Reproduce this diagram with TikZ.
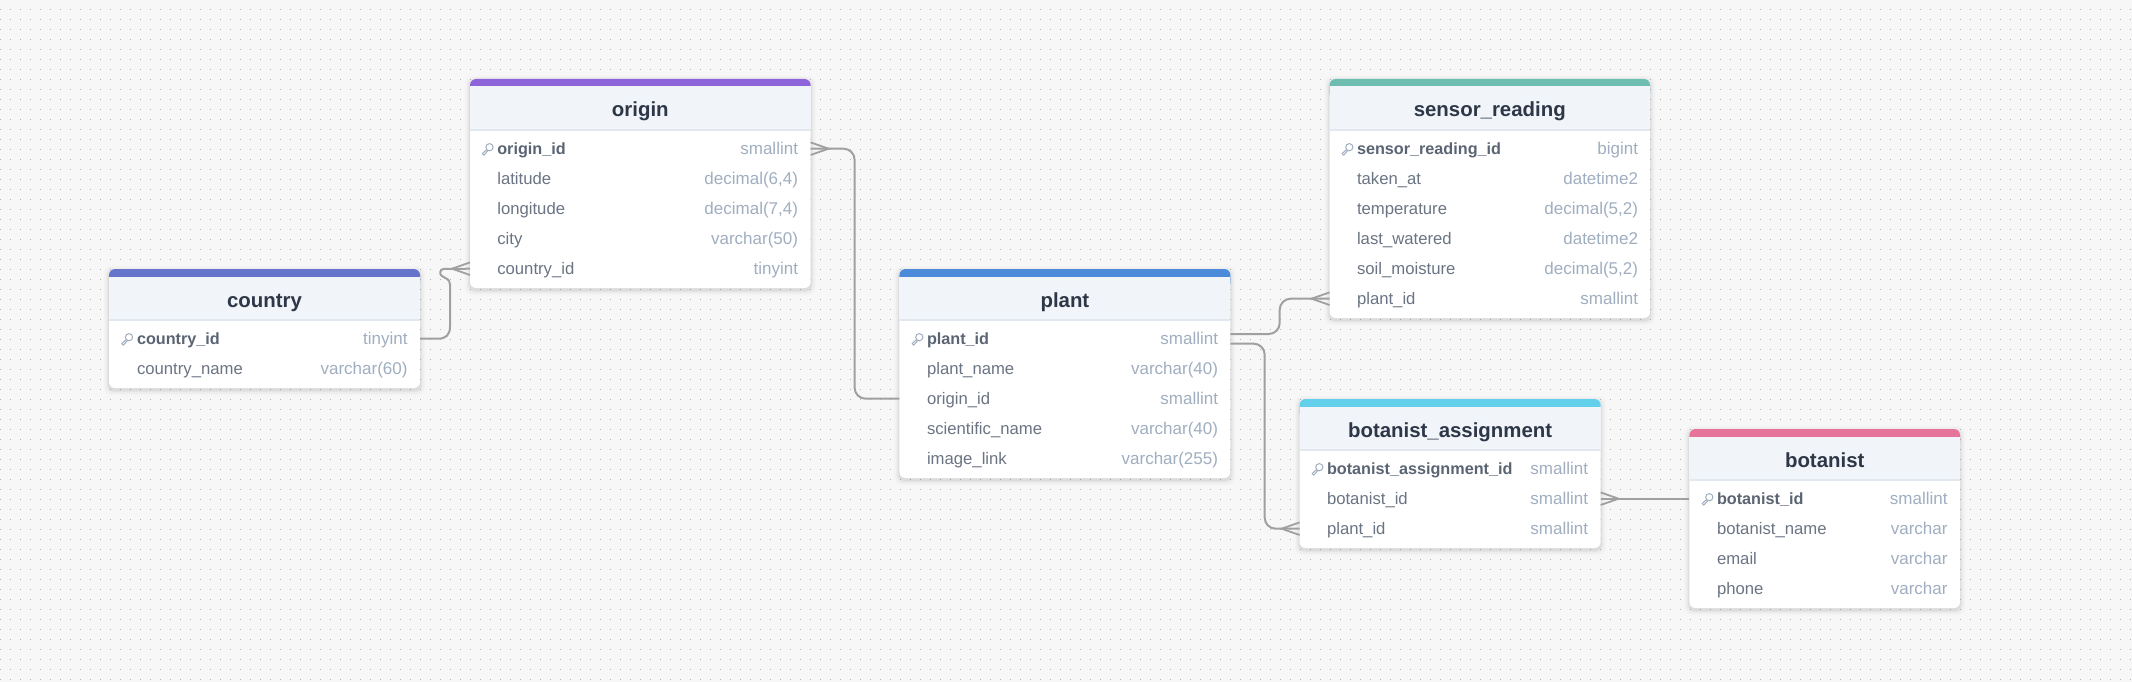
\documentclass[tikz,border=0pt]{standalone}
\usepackage{fontspec}
\setmainfont{Liberation Sans}
\usepackage{tikz}
\usetikzlibrary{positioning}

\definecolor{canvas}{HTML}{F7F7F7}
\definecolor{griddot}{HTML}{B4B4B4}
\definecolor{headfill}{HTML}{F1F5F9}
\definecolor{headline}{HTML}{E2E8F0}
\definecolor{titletext}{HTML}{2D3748}
\definecolor{nametext}{HTML}{6B7483}
\definecolor{idtext}{HTML}{5A6473}
\definecolor{typetext}{HTML}{A0AEC0}
\definecolor{linkline}{HTML}{A0A0A0}
\definecolor{originbar}{HTML}{8E64DB}
\definecolor{countrybar}{HTML}{6675CB}
\definecolor{plantbar}{HTML}{4C8BD9}
\definecolor{sensorbar}{HTML}{6DBDB0}
\definecolor{assignbar}{HTML}{62D0EA}
\definecolor{botanistbar}{HTML}{E6749A}

\tikzset{
    x=1pt, y=-1pt,
    tablebody/.style={draw=none, fill=white, rounded corners=6pt, inner sep=0pt, outer sep=0pt, anchor=north west},
    tabletitle/.style={font=\fontsize{20.4}{24}\bfseries\selectfont, text=titletext, inner sep=0pt, outer sep=0pt, text height=18pt, text depth=4pt},
    colname/.style={font=\fontsize{16.7}{20}\selectfont, text=nametext, inner sep=0pt, outer sep=0pt, minimum height=30pt, text height=16pt, text depth=4pt},
    colid/.style={colname, font=\fontsize{16.2}{20}\bfseries\selectfont, text=idtext},
    coltype/.style={colname, font=\fontsize{17}{20}\selectfont, text=typetext, anchor=east},
    under/.style={below=0pt of #1.south west, anchor=north west},
    link/.style={draw=linkline, line width=2pt},
    foot/.style={draw=linkline, line width=1.8pt},
    keyicon/.pic={
        \draw[draw=typetext, line width=1pt] (0,0) circle (3.6pt);
        \draw[draw=typetext, line width=1pt, line join=round] (-2.8,2.4) -- (-7.2,6.4) -- (-5.6,8) -- (-1.6,3.4);
    }
}

% frame of one table: name, x, y, width, height, bar colour
\newcommand{\dbtable}[6]{
    \foreach \grow/\op in {5/.015, 3.5/.025, 2/.03, 1/.04}
        \fill[black, opacity=\op, rounded corners=7pt] (#2-\grow,#3+2-\grow) rectangle (#2+#4+\grow,#3+#5+2+\grow);
    \node[tablebody, minimum width=#4pt, minimum height=#5pt] (#1) at (#2,#3) {};
    \fill[#6, rounded corners=6pt] (#2,#3) rectangle (#2+#4,#3+20);
    \fill[headfill] (#2,#3+7.5) rectangle (#2+#4,#3+51.7);
    \fill[headline] (#2,#3+50.2) rectangle (#2+#4,#3+52.2);
}

\begin{document}
\begin{tikzpicture}
    \useasboundingbox (0,0) rectangle (2132,682);
    \fill[canvas] (0,0) rectangle (2132,682);

    % dots of the canvas
    \foreach \row in {0,...,67}
        \draw[griddot, line width=1.1pt, dash pattern=on 1.1pt off 8.9pt] (-.2,9.3+10*\row) -- (2132,9.3+10*\row);

    % origin
    \dbtable{origin}{470}{79}{340.6}{209}{originbar}
    \node[tabletitle] (origin-title) at (origin.north |- 0,110) {origin};
    \node[colid, anchor=west] (origin-id) at (497.3,148.7) {origin\_id};
    \node[colname, under=origin-id] (origin-lat) {latitude};
    \node[colname, under=origin-lat] (origin-lon) {longitude};
    \node[colname, under=origin-lon] (origin-city) {city};
    \node[colname, under=origin-city] (origin-cid) {country\_id};
    \node[coltype] (origin-id-t) at (798,148.7) {smallint};
    \node[coltype] (origin-lat-t) at (798,178.7) {decimal(6,4)};
    \node[coltype] (origin-lon-t) at (798,208.7) {decimal(7,4)};
    \node[coltype] (origin-city-t) at (798,238.7) {varchar(50)};
    \node[coltype] (origin-cid-t) at (798,268.7) {tinyint};
    \pic at (489.5,147.2) {keyicon};

    % country
    \dbtable{country}{109}{269}{311}{119}{countrybar}
    \node[tabletitle] (country-title) at (country.north |- 0,300) {country};
    \node[colid, anchor=west] (country-id) at (137,338.7) {country\_id};
    \node[colname, under=country-id] (country-name) {country\_name};
    \node[coltype] (country-id-t) at (407.5,338.7) {tinyint};
    \node[coltype] (country-name-t) at (407.5,368.7) {varchar(60)};
    \pic at (129,337.2) {keyicon};

    % plant
    \dbtable{plant}{899.4}{269}{331}{209}{plantbar}
    \node[tabletitle] (plant-title) at (plant.north |- 0,300) {plant};
    \node[colid, anchor=west] (plant-id) at (927,338.7) {plant\_id};
    \node[colname, under=plant-id] (plant-name) {plant\_name};
    \node[colname, under=plant-name] (plant-origin) {origin\_id};
    \node[colname, under=plant-origin] (plant-sci) {scientific\_name};
    \node[colname, under=plant-sci] (plant-img) {image\_link};
    \node[coltype] (plant-id-t) at (1218,338.7) {smallint};
    \node[coltype] (plant-name-t) at (1218,368.7) {varchar(40)};
    \node[coltype] (plant-origin-t) at (1218,398.7) {smallint};
    \node[coltype] (plant-sci-t) at (1218,428.7) {varchar(40)};
    \node[coltype] (plant-img-t) at (1218,458.7) {varchar(255)};
    \pic at (919.3,337.2) {keyicon};

    % sensor_reading
    \dbtable{sensor}{1329.5}{79}{320.5}{239}{sensorbar}
    \node[tabletitle] (sensor-title) at (sensor.north |- 0,110) {sensor\_reading};
    \node[colid, anchor=west] (sensor-id) at (1357,148.7) {sensor\_reading\_id};
    \node[colname, under=sensor-id] (sensor-taken) {taken\_at};
    \node[colname, under=sensor-taken] (sensor-temp) {temperature};
    \node[colname, under=sensor-temp] (sensor-water) {last\_watered};
    \node[colname, under=sensor-water] (sensor-soil) {soil\_moisture};
    \node[colname, under=sensor-soil] (sensor-plant) {plant\_id};
    \node[coltype] (sensor-id-t) at (1638,148.7) {bigint};
    \node[coltype] (sensor-taken-t) at (1638,178.7) {datetime2};
    \node[coltype] (sensor-temp-t) at (1638,208.7) {decimal(5,2)};
    \node[coltype] (sensor-water-t) at (1638,238.7) {datetime2};
    \node[coltype] (sensor-soil-t) at (1638,268.7) {decimal(5,2)};
    \node[coltype] (sensor-plant-t) at (1638,298.7) {smallint};
    \pic at (1349.3,147.2) {keyicon};

    % botanist_assignment
    \dbtable{assign}{1299.6}{399}{301}{149}{assignbar}
    \node[tabletitle] (assign-title) at (assign.north |- 0,430) {botanist\_assignment};
    \node[colid, anchor=west] (assign-id) at (1327,468.7) {botanist\_assignment\_id};
    \node[colname, under=assign-id] (assign-bot) {botanist\_id};
    \node[colname, under=assign-bot] (assign-plant) {plant\_id};
    \node[coltype] (assign-id-t) at (1588,468.7) {smallint};
    \node[coltype] (assign-bot-t) at (1588,498.7) {smallint};
    \node[coltype] (assign-plant-t) at (1588,528.7) {smallint};
    \pic at (1319.3,467.2) {keyicon};

    % botanist
    \dbtable{botanist}{1689.4}{429}{270.6}{179}{botanistbar}
    \node[tabletitle] (botanist-title) at (botanist.north |- 0,460) {botanist};
    \node[colid, anchor=west] (botanist-id) at (1717,498.7) {botanist\_id};
    \node[colname, under=botanist-id] (botanist-name) {botanist\_name};
    \node[colname, under=botanist-name] (botanist-email) {email};
    \node[colname, under=botanist-email] (botanist-phone) {phone};
    \node[coltype] (botanist-id-t) at (1947.5,498.7) {smallint};
    \node[coltype] (botanist-name-t) at (1947.5,528.7) {varchar};
    \node[coltype] (botanist-email-t) at (1947.5,558.7) {varchar};
    \node[coltype] (botanist-phone-t) at (1947.5,588.7) {varchar};
    \pic at (1709.3,497.2) {keyicon};

    % connectors
    \draw[link] (country.east |- country-id) -- ++(18,0) .. controls +(8,0) and +(0,8) .. ++(12,-12) -- ++(0,-42) .. controls +(0,-6) and +(4,3) .. ++(-8.5,-9) .. controls +(-2.5,-2) and +(-3,0) .. ++(2,-6.7) -- (origin.west |- origin-cid);
    \draw[foot] (origin.west |- origin-cid) ++(0,-6.3) -- ++(-18,6.3) -- ++(18,6.3);

    \draw[link, rounded corners=11pt] (origin.east |- origin-id) -- ++(44,0) |- (plant.west |- plant-origin);
    \draw[foot] (origin.east |- origin-id) ++(0,-6.3) -- ++(18,6.3) -- ++(-18,6.3);

    \draw[link, rounded corners=11pt] (plant.east |- 0,334) -- ++(49.3,0) |- (sensor.west |- sensor-plant);
    \draw[foot] (sensor.west |- sensor-plant) ++(0,-6.3) -- ++(-18,6.3) -- ++(18,6.3);

    \draw[link, rounded corners=11pt] (plant.east |- 0,343.7) -- ++(34.3,0) |- (assign.west |- assign-plant);
    \draw[foot] (assign.west |- assign-plant) ++(0,-6.3) -- ++(-18,6.3) -- ++(18,6.3);

    \draw[link] (assign.east |- assign-bot) -- (botanist.west |- botanist-id);
    \draw[foot] (assign.east |- assign-bot) ++(0,-6.3) -- ++(18,6.3) -- ++(-18,6.3);
\end{tikzpicture}
\end{document}
